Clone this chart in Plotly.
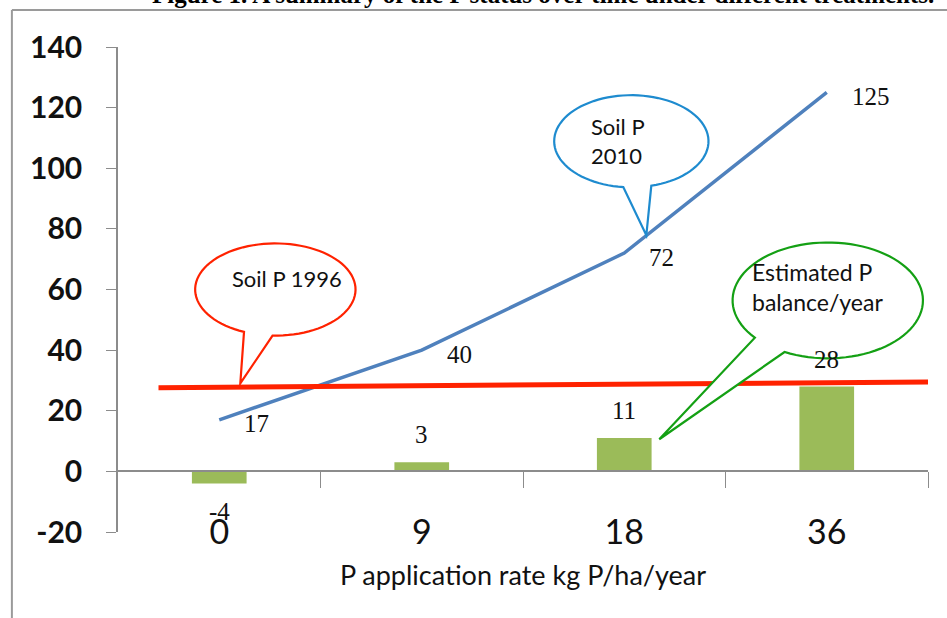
import numpy as np
import plotly.graph_objects as go

# ---------------- data ----------------
categories = ["0", "9", "18", "36"]          # P application rate kg P/ha/year
cat_pos = [0, 1, 2, 3]
soil_p_2010 = [17, 40, 72, 125]
p_balance = [-4, 3, 11, 28]
soil_p_1996_x = [-0.3, 3.5]
soil_p_1996_y = [27.6, 29.5]
y_ticks = [-20, 0, 20, 40, 60, 80, 100, 120, 140]
y_tick_text = ["-20", "0", "20", "40", "60", "80", "100", "120", "140"]

SANS = "Lato"
SERIF = "Liberation Serif"

fig = go.Figure()

fig.add_trace(go.Bar(x=cat_pos, y=p_balance, width=0.27,
                     marker=dict(color="#9BBB59", line=dict(width=0)),
                     xaxis="x", yaxis="y", showlegend=False, hoverinfo="y"))
fig.add_trace(go.Scatter(x=cat_pos, y=soil_p_2010, mode="lines",
                         line=dict(color="#4F81BD", width=3.5),
                         xaxis="x2", yaxis="y", showlegend=False))
fig.add_trace(go.Scatter(x=soil_p_1996_x, y=soil_p_1996_y, mode="lines",
                         line=dict(color="#FF2200", width=5),
                         xaxis="x2", yaxis="y", showlegend=False))

annotations = []
# line labels
for xv, yv in zip(cat_pos, soil_p_2010):
    annotations.append(dict(x=xv, y=yv, xref="x2", yref="y", text=str(yv),
                            showarrow=False, xanchor="left", yanchor="middle",
                            xshift=23, yshift=-4,
                            font=dict(family=SERIF, size=25, color="#111")))
# bar labels
for xv, yv in zip(cat_pos, p_balance):
    if yv >= 0:
        annotations.append(dict(x=xv, y=yv, xref="x2", yref="y", text=str(yv),
                                showarrow=False, yanchor="bottom", yshift=12,
                                font=dict(family=SERIF, size=25, color="#111")))
    else:
        annotations.append(dict(x=xv, y=yv, xref="x2", yref="y", text=str(yv),
                                showarrow=False, yanchor="top", yshift=-12,
                                font=dict(family=SERIF, size=25, color="#111")))


def bubble_path(cx, cy, rx, ry, t1, t2, tipx, tipy, n=90):
    ts = np.linspace(np.radians(t2), np.radians(t1 + 360), n)
    xs = cx + rx * np.cos(ts)
    ys = cy + ry * np.sin(ts)
    p = f"M {tipx},{tipy} " + " ".join(f"L {a:.4f},{b:.4f}" for a, b in zip(xs, ys)) + " Z"
    return p


shapes = []
bubbles = [
    # (cx, cy, rx, ry, t1, t2, tipx, tipy, color)
    (0.277, 60.0, 0.396, 15.2, 247, 268, 0.104, 29.0, "#FF2200"),
    (2.035, 108.9, 0.381, 15.2, 264, 285, 2.109, 77.9, "#1E8BCF"),
    (3.005, 56.4, 0.470, 19.1, 220, 243, 2.173, 10.6, "#14A014"),
]
for cx, cy, rx, ry, t1, t2, tx, ty, col in bubbles:
    shapes.append(dict(type="path", xref="x2", yref="y",
                       path=bubble_path(cx, cy, rx, ry, t1, t2, tx, ty),
                       line=dict(color=col, width=2.2), fillcolor="white",
                       layer="above"))

annotations += [
    dict(x=0.337, y=63.7, xref="x2", yref="y", text="Soil P 1996", showarrow=False,
         font=dict(family=SANS, size=22, color="#111")),
    dict(x=1.827, y=108.9, xref="x2", yref="y", text="Soil P<br>2010", showarrow=False,
         xanchor="left", align="left", font=dict(family=SANS, size=22, color="#111")),
    dict(x=2.619, y=60.7, xref="x2", yref="y", text="Estimated P<br>balance/year",
         showarrow=False, xanchor="left", align="left",
         font=dict(family=SANS, size=23, color="#111")),
    # cut-off caption at the top of the page
    dict(x=1.01, y=1.077, xref="paper", yref="paper", xanchor="right", yanchor="bottom",
         text="<b>Figure 1. A summary of the P status over time under different treatments.</b>",
         showarrow=False, font=dict(family=SERIF, size=25, color="#000")),
]

# page frame lines
shapes += [
    dict(type="line", xref="paper", yref="paper", x0=-0.131, x1=1.05, y0=1.0763, y1=1.0763,
         line=dict(color="#9a9a9a", width=2), layer="above"),
    dict(type="line", xref="paper", yref="paper", x0=-0.131, x1=-0.131, y0=1.0763, y1=-0.2,
         line=dict(color="#9a9a9a", width=2), layer="above"),
]

fig.update_layout(
    width=947, height=618,
    margin=dict(l=118, r=19, t=47, b=86),
    paper_bgcolor="white", plot_bgcolor="white",
    showlegend=False,
    xaxis=dict(range=[-0.5, 3.5], tickvals=cat_pos, ticktext=categories,
               anchor="free", position=0.048, showline=False, ticks="",
               showgrid=False, zeroline=False,
               tickfont=dict(family=SANS, size=34, color="#111"),
               title=dict(text="P application rate kg P/ha/year", standoff=16,
                          font=dict(family=SANS, size=27, color="#111"))),
    xaxis2=dict(range=[-0.5, 3.5], overlaying="x", matches="x", anchor="free",
                position=0.125, showline=True, linecolor="#8c8c8c", linewidth=1.5,
                tickvals=[0.5, 1.5, 2.5, 3.5], ticks="outside", ticklen=16,
                tickcolor="#8c8c8c", showticklabels=False, showgrid=False,
                zeroline=False),
    yaxis=dict(range=[-20, 140], tickvals=y_ticks, ticktext=y_tick_text,
               showgrid=False, zeroline=False,
               showline=True, linecolor="#8c8c8c", linewidth=1.5, ticks="outside",
               ticklen=10, tickcolor="#8c8c8c", anchor="x", ticklabelstandoff=18,
               tickfont=dict(family=SANS, size=30, color="#111", weight="bold")),
    annotations=annotations,
    shapes=shapes,
)

fig.write_html("out.html", config={"displayModeBar": False},
               post_script="document.body.style.margin='0';")
